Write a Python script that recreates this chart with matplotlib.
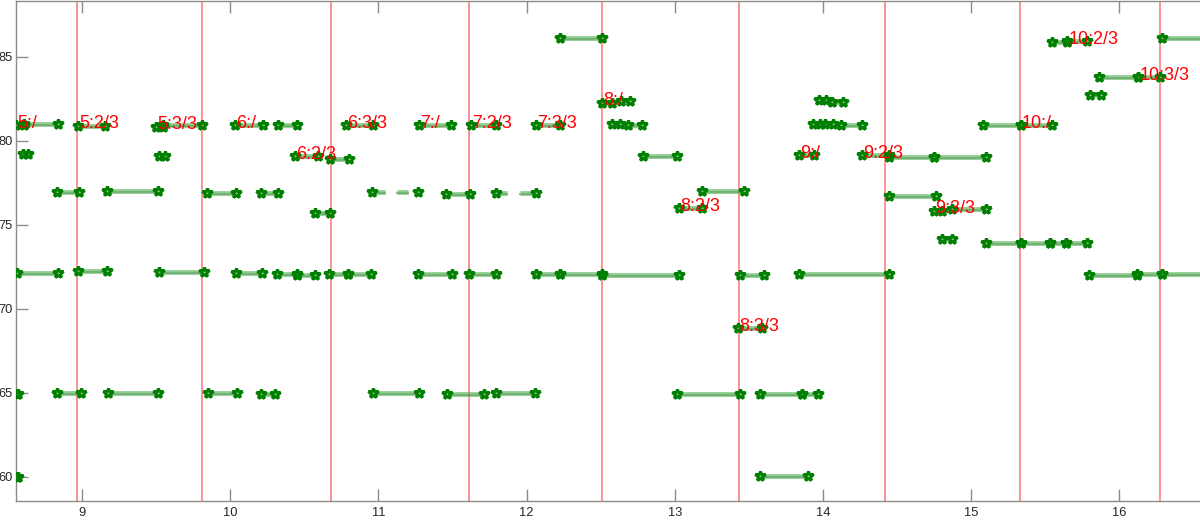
import numpy as np
import matplotlib
matplotlib.use('Agg')
import matplotlib.pyplot as plt

# note segments: onset [s], offset [s], pitch [midi]
note_on = [8.555, 8.609, 8.975, 9.499, 9.547, 10.034, 10.321, 10.779, 11.274, 11.623,
           12.061, 12.574, 12.686, 13.930, 14.013, 14.121, 15.080, 15.334,
           12.511, 12.635, 13.973, 14.063,
           12.227, 15.543, 15.648, 16.285,
           15.864, 16.128, 15.802,
           8.599, 9.522, 10.439, 10.673, 12.783, 13.838, 14.261, 14.445, 14.751,
           8.829, 9.171, 9.841, 10.206, 10.959, 11.454, 11.791, 13.181, 14.447,
           10.572, 13.030, 14.749, 14.868,
           14.801, 15.100, 15.334, 15.532, 15.638,
           8.563, 8.975, 9.520, 10.039, 10.316, 10.453, 10.669, 10.793, 11.269, 11.613,
           12.061, 12.227, 12.511, 13.440, 13.838, 15.793, 16.121, 16.285,
           13.428,
           8.563, 8.833, 9.177, 9.848, 10.208, 10.962, 11.461, 11.791, 13.013, 13.575, 13.856,
           8.563, 13.575]
note_off = [8.609, 8.840, 9.155, 9.547, 9.812, 10.221, 10.453, 10.966, 11.488, 11.791,
            12.227, 12.630, 12.781, 13.980, 14.065, 14.263, 15.334, 15.543,
            12.574, 12.698, 14.020, 14.133,
            12.511, 15.648, 15.779, 16.700,
            16.128, 16.274, 15.876,
            8.638, 9.560, 10.594, 10.802, 13.013, 13.939, 14.445, 14.751, 15.098,
            8.982, 9.513, 10.039, 10.321, 11.269, 11.620, 12.061, 13.469, 14.760,
            10.673, 13.181, 14.801, 15.098,
            14.868, 15.334, 15.532, 15.638, 15.783,
            8.840, 9.171, 9.823, 10.217, 10.453, 10.570, 10.793, 10.948, 11.495, 11.791,
            12.227, 12.511, 13.030, 13.604, 14.445, 16.121, 16.285, 16.700,
            13.586,
            8.566, 8.995, 9.515, 10.046, 10.302, 11.276, 11.713, 12.057, 13.440, 13.856, 13.968,
            8.566, 13.901]
note_pitch = [80.94, 81.03, 80.90, 80.84, 80.94, 80.94, 80.94, 80.94, 80.94, 80.94,
              80.94, 81.03, 80.96, 81.03, 80.98, 80.94, 80.96, 80.94,
              82.28, 82.38, 82.44, 82.34,
              86.13, 85.87, 85.93, 86.11,
              83.77, 83.81, 82.70,
              79.22, 79.10, 79.10, 78.94, 79.07, 79.17, 79.15, 79.06, 79.04,
              76.96, 76.99, 76.87, 76.87, 76.93, 76.84, 76.87, 77.02, 76.72,
              75.73, 75.98, 75.85, 75.95,
              74.15, 73.93, 73.93, 73.93, 73.93,
              72.14, 72.24, 72.22, 72.12, 72.06, 72.01, 72.10, 72.10, 72.06, 72.09,
              72.09, 72.09, 72.04, 72.03, 72.09, 72.04, 72.09, 72.09,
              68.84,
              64.91, 64.99, 65.01, 64.99, 64.91, 65.01, 64.93, 64.99, 64.91, 64.93, 64.96,
              60.00, 60.04]

# unvoiced stretches inside notes (no contour drawn)
gap_start = [11.045, 11.200, 11.870]
gap_end = [11.126, 11.262, 11.953]
gap_pitch = [76.93, 76.93, 76.87]

# beat lines and labels
beat_x = [8.964, 9.812, 10.680, 11.611, 12.511, 13.431, 14.420, 15.327, 16.274]
label_text = ['5:/', '5:2/3', '5:3/3', '6:/', '6:2/3', '6:3/3', '7:/', '7:2/3', '7:3/3',
              '8:/', '8:2/3', '8:3/3', '9:/', '9:2/3', '9:3/3', '10:/', '10:2/3', '10:3/3']
label_x = [8.555, 8.975, 9.499, 10.034, 10.439, 10.779, 11.274, 11.623, 12.061,
           12.511, 13.030, 13.428, 13.838, 14.261, 14.749, 15.334, 15.648, 16.128]
label_y = [80.94, 80.90, 80.84, 80.94, 79.10, 80.94, 80.94, 80.94, 80.94,
           82.28, 75.98, 68.84, 79.17, 79.15, 75.85, 80.94, 85.93, 83.81]

x_ticks = [9, 10, 11, 12, 13, 14, 15, 16]
y_ticks = [60, 65, 70, 75, 80, 85]


def contour(on, off, p):
    # split a note into voiced pieces
    xs = [on]
    for gs, ge, gp in zip(gap_start, gap_end, gap_pitch):
        if on < gs and ge < off and abs(gp - p) < 0.3:
            xs += [gs, np.nan, ge]
    xs.append(off)
    return np.array(xs)


plt.rcParams['font.family'] = ['Liberation Sans', 'DejaVu Sans']

fig = plt.figure(figsize=(12, 5.29), dpi=100)
ax = fig.add_axes([16 / 1200, 28 / 529, 1 - 16 / 1200, 1 - 28 / 529 - 1 / 529])

for bx in beat_x:
    ax.axvline(bx, color='#ff7f7f', linewidth=1.2, zorder=1)

dark = (0.0, 0.5, 0.0)
for on, off, p in zip(note_on, note_off, note_pitch):
    xs = contour(on, off, p)
    ys = np.where(np.isnan(xs), np.nan, p)
    ax.plot(xs, ys - 0.06, color='0.25', alpha=0.4, linewidth=1.6, zorder=2)
    ax.plot(xs, ys, color=(0.3, 0.7, 0.3), alpha=0.6, linewidth=3.5,
            solid_capstyle='butt', zorder=3)
    ax.plot([on, off], [p, p], linestyle='none', marker='*', markersize=7.5,
            markerfacecolor='none', markeredgecolor=dark, markeredgewidth=2.2, zorder=4)

for txt, lx, ly in zip(label_text, label_x, label_y):
    ax.annotate(txt, (lx, ly), xytext=(0.8, -2.0), textcoords='offset points',
                ha='left', va='baseline', color='red', fontsize=13, zorder=5)

ax.set_xlim(8.555, 16.544)
ax.set_ylim(58.57, 88.32)
ax.set_xticks(x_ticks)
ax.set_yticks(y_ticks)

for side in ['left', 'top', 'bottom']:
    ax.spines[side].set_color('#8c8c8c')
    ax.spines[side].set_linewidth(1.0)
ax.spines['right'].set_visible(False)

ax.tick_params(direction='in', length=8.5, width=1.0, color='#8c8c8c',
               labelsize=9.3, labelcolor='#262626', top=True, right=False)
ax.tick_params(axis='x', pad=4)
ax.tick_params(axis='y', pad=2.5)

fig.savefig('out.png', dpi=100)
